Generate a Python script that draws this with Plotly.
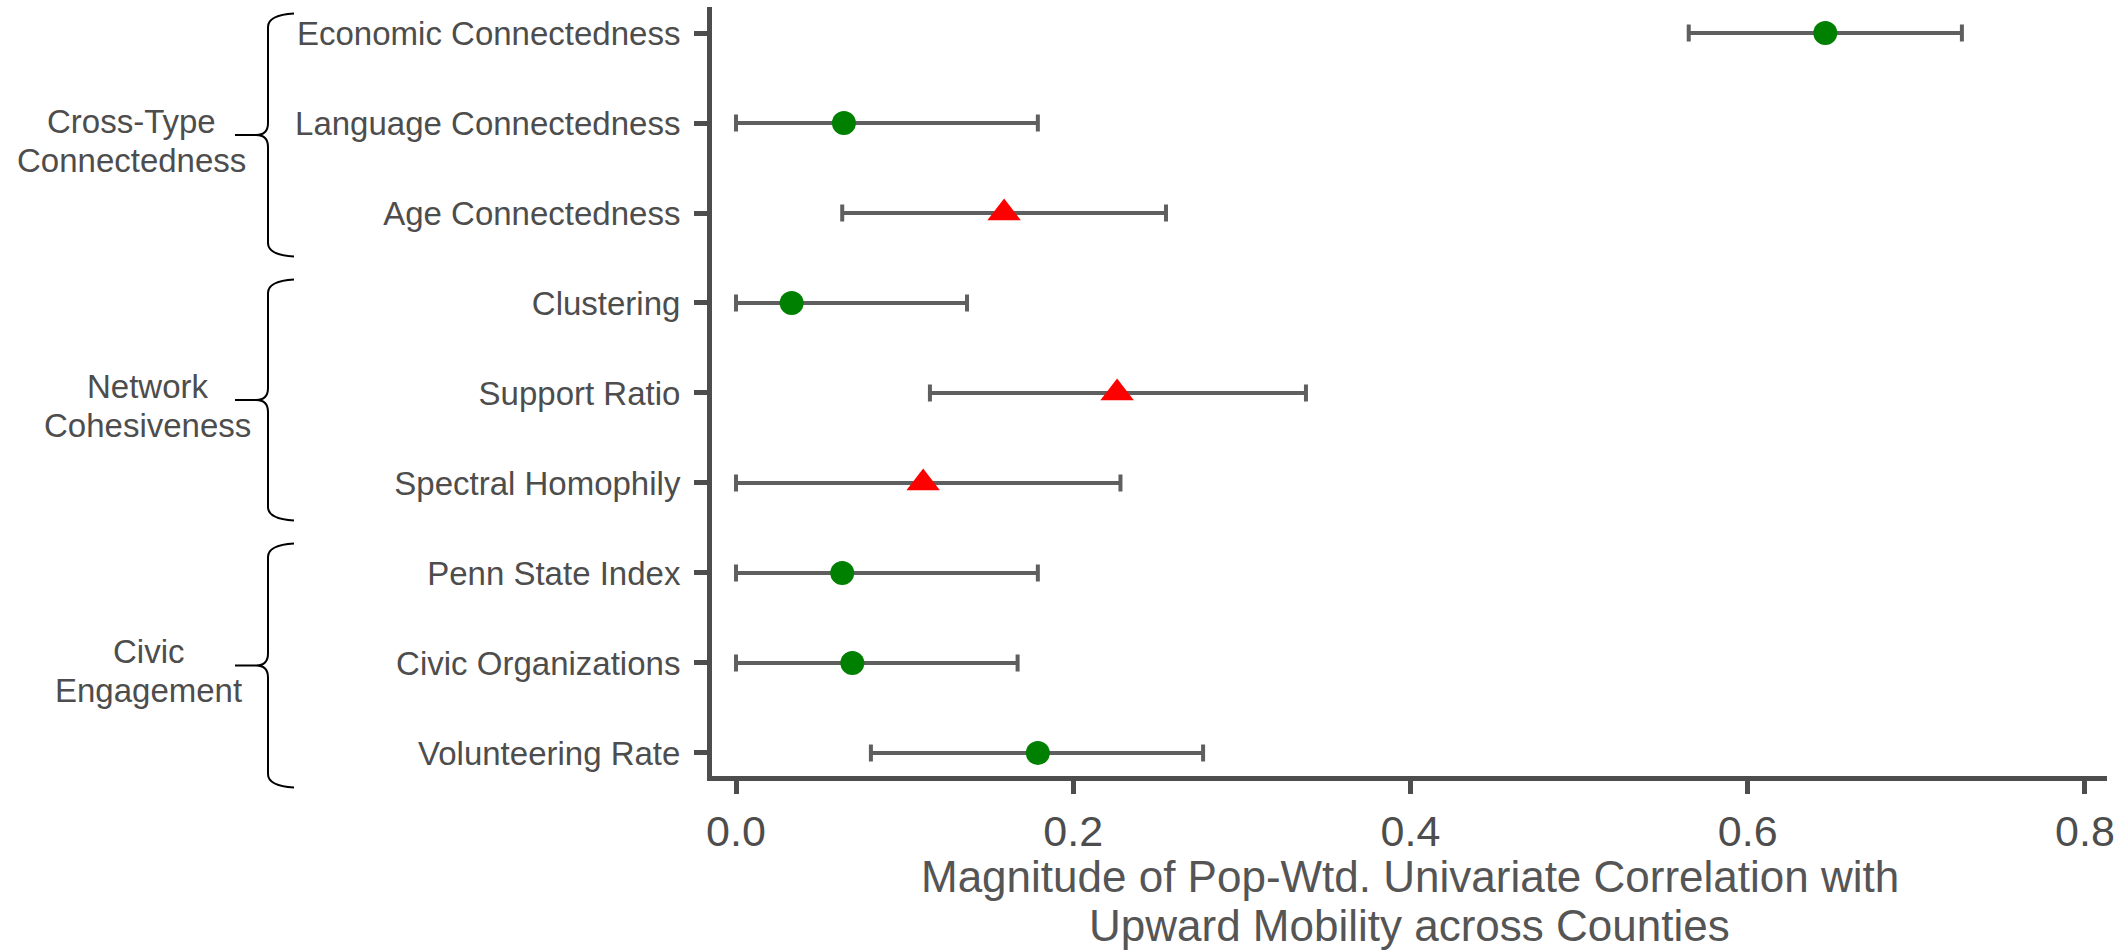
import plotly.graph_objects as go

# ---- data -------------------------------------------------------------
measures = [
    "Economic Connectedness",
    "Language Connectedness",
    "Age Connectedness",
    "Clustering",
    "Support Ratio",
    "Spectral Homophily",
    "Penn State Index",
    "Civic Organizations",
    "Volunteering Rate",
]
estimate = [0.646, 0.064, 0.159, 0.033, 0.226, 0.111, 0.063, 0.069, 0.179]
ci_low = [0.565, 0.000, 0.063, 0.000, 0.115, 0.000, 0.000, 0.000, 0.080]
ci_high = [0.727, 0.179, 0.255, 0.137, 0.338, 0.228, 0.179, 0.167, 0.277]
# sign of the underlying correlation: +1 positive (green circle), -1 negative (red triangle)
sign = [1, 1, -1, 1, -1, -1, 1, 1, 1]

groups = [
    ["Cross-Type", "Connectedness"],
    ["Network", "Cohesiveness"],
    ["Civic", "Engagement"],
]
# vertical extent of each group's brace, in y-axis units
brace_top = [9.20, 6.244, 3.311]
brace_bottom = [6.533, 3.600, 0.633]

x_ticks = [0.0, 0.2, 0.4, 0.6, 0.8]
x_tick_text = ["0.0", "0.2", "0.4", "0.6", "0.8"]
x_title = ["Magnitude of Pop-Wtd. Univariate Correlation with",
           "Upward Mobility across Counties"]

# ---- layout geometry --------------------------------------------------
W, H = 2128, 950
ML, MR, MT, MB = 712, 21, 7, 174
PW, PH = W - ML - MR, H - MT - MB
X_RANGE = [-0.014233, 0.81305]
Y_RANGE = [0.744, 9.289]
PX_PER_Y = PH / (Y_RANGE[1] - Y_RANGE[0])

FONT = "Liberation Sans, Arial, Helvetica, sans-serif"
TEXT_COL = "#4d4d4d"
AXIS_COL = "#4d4d4d"
BAR_COL = "#5f5f5f"

ypos = list(range(len(measures), 0, -1))


def paper_y(v):
    return (v - Y_RANGE[0]) / (Y_RANGE[1] - Y_RANGE[0])


def paper_x_from_px(px):
    return (px - ML) / PW


fig = go.Figure()

for s, colour, symbol, size, name in [
    (1, "#008000", "circle", 24, "Positive"),
    (-1, "#ff0000", "triangle-up", 29, "Negative"),
]:
    idx = [i for i in range(len(measures)) if sign[i] == s]
    fig.add_trace(go.Scatter(
        x=[estimate[i] for i in idx],
        y=[ypos[i] for i in idx],
        mode="markers",
        name=name,
        marker=dict(color=colour, symbol=symbol, size=size, line=dict(width=0)),
        error_x=dict(
            type="data",
            symmetric=False,
            array=[ci_high[i] - estimate[i] for i in idx],
            arrayminus=[estimate[i] - ci_low[i] for i in idx],
            color=BAR_COL,
            thickness=4,
            width=8.5,
        ),
        showlegend=False,
        cliponaxis=False,
    ))

# ---- group braces and labels -----------------------------------------
X_VERT = 268 - ML     # brace spine, pixels from plot's left edge
X_HOOK = 294 - ML     # ends of the top/bottom hooks
X_TIP = 235 - ML      # point of the brace
label_x_px = [131, 147.5, 148.5]

shapes = []
annotations = []
for g, (top, bot) in enumerate(zip(brace_top, brace_bottom)):
    mid = (top + bot) / 2
    half = (top - bot) / 2 * PX_PER_Y
    r = 12
    path = (
        f"M{X_HOOK},{half + 1.5} Q{X_VERT},{half} {X_VERT},{half - r} "
        f"L{X_VERT},{r} Q{X_VERT},0 {X_VERT - 12},0 L{X_TIP},0 "
        f"M{X_VERT - 12},0 Q{X_VERT},0 {X_VERT},{-r} "
        f"L{X_VERT},{-half + r} Q{X_VERT},{-half} {X_HOOK},{-half - 1.5}"
    )
    shapes.append(dict(
        type="path", path=path,
        xref="paper", yref="paper",
        xsizemode="pixel", ysizemode="pixel",
        xanchor=0, yanchor=paper_y(mid),
        line=dict(color="black", width=2),
    ))
    for k, (line_text, shift) in enumerate(zip(groups[g], [13.5, -25.5])):
        annotations.append(dict(
            text=line_text, showarrow=False,
            xref="paper", yref="paper",
            x=paper_x_from_px(label_x_px[g]), y=paper_y(mid),
            xanchor="center", yanchor="middle", yshift=shift,
            font=dict(family=FONT, size=33, color=TEXT_COL),
        ))

# axis title, two centred lines under the plot
for line_text, centre_px in zip(x_title, [876.0, 925.5]):
    annotations.append(dict(
        text=line_text, showarrow=False,
        xref="paper", yref="paper", x=0.5, y=0,
        xanchor="center", yanchor="middle", borderpad=0,
        yshift=-(centre_px - (H - MB)),
        font=dict(family=FONT, size=44, color="#555555"),
    ))

fig.update_layout(
    width=W, height=H,
    margin=dict(l=ML, r=MR, t=MT, b=MB, pad=0),
    paper_bgcolor="white", plot_bgcolor="white",
    showlegend=False,
    shapes=shapes,
    annotations=annotations,
    xaxis=dict(
        range=X_RANGE,
        tickvals=x_ticks, ticktext=x_tick_text,
        showgrid=False, zeroline=False,
        showline=True, linecolor=AXIS_COL, linewidth=5,
        ticks="outside", ticklen=13, tickwidth=4.5, tickcolor=AXIS_COL,
        tickfont=dict(family=FONT, size=43, color=TEXT_COL),
    ),
    yaxis=dict(
        range=Y_RANGE,
        tickvals=ypos, ticktext=measures,
        showgrid=False, zeroline=False,
        showline=True, linecolor=AXIS_COL, linewidth=5,
        ticks="outside", ticklen=13, tickwidth=4.5, tickcolor=AXIS_COL,
        ticklabelstandoff=7,
        tickfont=dict(family=FONT, size=33, color=TEXT_COL),
    ),
)

fig.write_html("out.html")
